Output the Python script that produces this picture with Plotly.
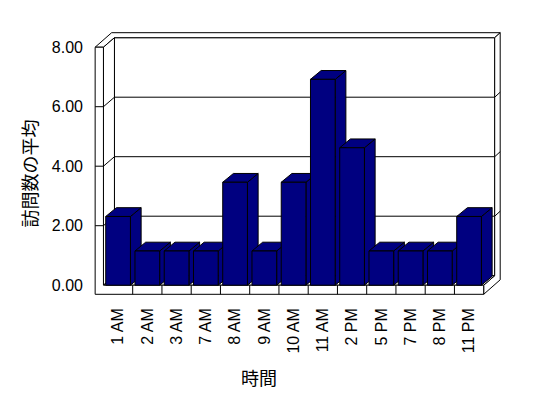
import plotly.graph_objects as go

# ---------------- data ----------------
categories = ["1 AM", "2 AM", "3 AM", "7 AM", "8 AM", "9 AM", "10 AM",
              "11 AM", "2 PM", "5 PM", "7 PM", "8 PM", "11 PM"]
values = [2.31, 1.15, 1.15, 1.15, 3.46, 1.15, 3.46, 6.92, 4.62, 1.15, 1.15, 1.15, 2.31]
y_tick_values = [0, 2, 4, 6, 8]
y_tick_labels = ["0.00", "2.00", "4.00", "6.00", "8.00"]
x_title = "時間"
y_title = "訪問数の平均"

# ---------------- geometry (pixels) ----------------
W, H = 548, 398
PX_L, PX_R, PX_T, PX_B = 90, 506, 26, 298      # plot area
X0_PX = 103.45      # front-plane left edge of first category
CAT_PX = 29.25      # pixels per category
Y0_PX = 285.2       # value 0 on front plane
UNIT_PX = 29.75     # pixels per value unit

n = len(categories)
x_lo = (PX_L - X0_PX) / CAT_PX - 0.5
x_hi = (PX_R - X0_PX) / CAT_PX - 0.5
y_lo = (Y0_PX - PX_B) / UNIT_PX
y_hi = (Y0_PX - PX_T) / UNIT_PX


def off(dxp, dyp):
    """pixel offset -> data offset"""
    return dxp / CAT_PX, -dyp / UNIT_PX


D = off(11.0, -9.5)        # depth of floor / back wall front face
T = off(5.5, -5.0)         # back wall thickness
BD = off(10.7, -8.8)       # bar depth
WL = 8.3 / CAT_PX          # left wall thickness (x data units)
FL = 9.1 / UNIT_PX         # floor thickness (y data units)
BAR_W = 0.845

xa, xb = -0.5, n - 0.5
vmax = y_tick_values[-1]

LINE = dict(color="black", width=1)
NAVY = "#000080"
shapes = []


def add(p, x, y):
    return (x + p[0], y + p[1])


def poly(pts, fill="white", line=LINE):
    path = "M " + " L ".join(f"{x:.5f},{y:.5f}" for x, y in pts) + " Z"
    shapes.append(dict(type="path", path=path, xref="x", yref="y",
                       fillcolor=fill, line=line, layer="below"))


def seg(p1, p2):
    shapes.append(dict(type="line", x0=p1[0], y0=p1[1], x1=p2[0], y1=p2[1],
                       xref="x", yref="y", line=LINE, layer="below"))


DT = (D[0] + T[0], D[1] + T[1])

# back wall front face
poly([add(D, xa, 0), add(D, xb, 0), add(D, xb, vmax), add(D, xa, vmax)])
# back wall grid lines
for v in y_tick_values[1:-1]:
    seg(add(D, xa, v), add(D, xb, v))
# top of walls
poly([(xa - WL, vmax), (xa, vmax), add(D, xa, vmax), add(D, xb, vmax),
      add(DT, xb, vmax), add(DT, xa - WL, vmax)])
# right side of back wall + floor
poly([(xb, 0), (xb, -FL), add(DT, xb, -FL), add(DT, xb, vmax),
      add(D, xb, vmax), add(D, xb, 0)])
for v in y_tick_values[1:-1]:
    seg(add(D, xb, v), add(DT, xb, v))
# inner face of left wall
poly([(xa, 0), (xa, vmax), add(D, xa, vmax), add(D, xa, 0)])
# floor top
poly([(xa, 0), (xb, 0), add(D, xb, 0), add(D, xa, 0)])
# front faces of left wall + floor (L shape)
poly([(xa - WL, vmax), (xa, vmax), (xa, 0), (xb, 0), (xb, -FL), (xa - WL, -FL)])
# floor category dividers
for k in range(1, n):
    seg((xa + k, 0), (xa + k, -FL))
# grid ticks across the left wall
for v in y_tick_values[1:-1]:
    seg((xa - WL, v), (xa, v))
    seg((xa, v), add(D, xa, v))

# bar side and top faces (front faces are the Bar trace)
for i, v in enumerate(values):
    L, R = i - BAR_W / 2, i + BAR_W / 2
    poly([(R, 0), (R, v), add(BD, R, v), add(BD, R, 0)], fill=NAVY)
    poly([(L, v), (R, v), add(BD, R, v), add(BD, L, v)], fill=NAVY)

fig = go.Figure()
fig.add_trace(go.Bar(
    x=list(range(n)), y=values, width=BAR_W,
    marker=dict(color=NAVY, line=dict(color="black", width=1)),
    hoverinfo="skip", showlegend=False,
))

pw = PX_R - PX_L
ph = PX_B - PX_T


def paper_x(px):
    return (px - PX_L) / pw


def paper_y(py):
    return (PX_B - py) / ph


fig.update_layout(
    width=W, height=H,
    margin=dict(l=PX_L, r=W - PX_R, t=PX_T, b=H - PX_B, pad=0),
    paper_bgcolor="white", plot_bgcolor="white",
    font=dict(family="Liberation Sans, Arial, sans-serif", size=16, color="black"),
    showlegend=False,
    shapes=shapes,
    xaxis=dict(range=[x_lo, x_hi], tickmode="array", tickvals=list(range(n)),
               ticktext=categories, tickangle=-90, showgrid=False, zeroline=False,
               showline=False, ticks="", ticklabelstandoff=6, fixedrange=True),
    yaxis=dict(range=[y_lo, y_hi], tickmode="array", tickvals=y_tick_values,
               ticktext=y_tick_labels, showgrid=False, zeroline=False,
               showline=False, ticks="", ticklabelstandoff=6, fixedrange=True),
    annotations=[
        dict(text=x_title, xref="paper", yref="paper", x=paper_x(258.5), y=paper_y(377),
             showarrow=False, xanchor="center", yanchor="middle",
             font=dict(family="Noto Sans CJK JP", size=18)),
        dict(text=y_title, xref="paper", yref="paper", x=paper_x(28), y=paper_y(173.5),
             showarrow=False, xanchor="center", yanchor="middle", textangle=-90,
             font=dict(family="Noto Sans CJK JP", size=18)),
    ],
)

fig.write_html("out.html")
